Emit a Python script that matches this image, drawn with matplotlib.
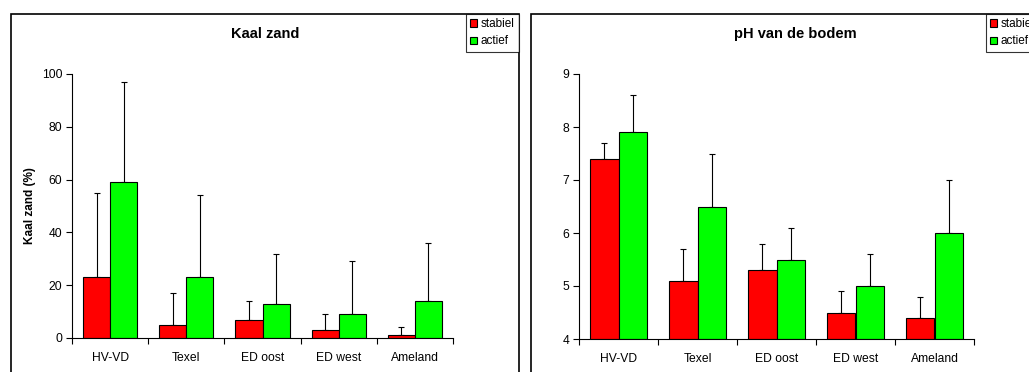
import numpy as np
import matplotlib
matplotlib.use('Agg')
import matplotlib.pyplot as plt
from matplotlib.patches import Rectangle

plt.rcParams['font.family'] = ['Liberation Sans', 'DejaVu Sans']

sites = ['HV-VD', 'Texel', 'ED oost', 'ED west', 'Ameland']

zand_stabiel = [23, 5, 7, 3, 1]
zand_stabiel_top = [55, 17, 14, 9, 4]
zand_actief = [59, 23, 13, 9, 14]
zand_actief_top = [97, 54, 32, 29, 36]

ph_stabiel = [7.4, 5.1, 5.3, 4.5, 4.4]
ph_stabiel_top = [7.7, 5.7, 5.8, 4.9, 4.8]
ph_actief = [7.9, 6.5, 5.5, 5.0, 6.0]
ph_actief_top = [8.6, 7.5, 6.1, 5.6, 7.0]

W, H = 1029, 372
fig = plt.figure(figsize=(W / 100, H / 100), dpi=100)


def px_axes(x0, x1, ytop, ybot):
    return fig.add_axes([x0 / W, (H - ybot) / H, (x1 - x0) / W, (ybot - ytop) / H])


def panel(ax, stab, stab_top, act, act_top, ylim, yticks, title, ylabel, frame, leg_x):
    x = np.arange(len(sites))
    bw = 0.355
    b = ylim[0]
    ax.bar(x - bw / 2, np.array(stab) - b, bw, bottom=b, color='#ff0000', edgecolor='black', linewidth=0.8, zorder=2, label='stabiel')
    ax.bar(x + bw / 2, np.array(act) - b, bw, bottom=b, color='#00ff00', edgecolor='black', linewidth=0.8, zorder=2, label='actief')
    for xs, v, t in [(x - bw / 2, stab, stab_top), (x + bw / 2, act, act_top)]:
        v = np.array(v)
        up = np.array(t) - v
        ax.errorbar(xs, v, yerr=[np.zeros_like(v), up], fmt='none', ecolor='black',
                    elinewidth=0.8, capsize=2.5, capthick=0.8, zorder=1)
    ax.set_xlim(-0.5, len(sites) - 0.5)
    ax.set_ylim(*ylim)
    ax.set_yticks(yticks)
    ax.set_xticks(np.arange(len(sites) + 1) - 0.5)
    ax.set_xticklabels([])
    ax.set_xticks(x, minor=True)
    ax.set_xticklabels(sites, minor=True, fontsize=8.7)
    ax.tick_params(axis='x', which='minor', length=0, pad=10)
    ax.tick_params(axis='x', which='major', length=4, width=0.8, direction='out')
    ax.tick_params(axis='y', length=4, width=0.8, direction='out', labelsize=8.7, pad=3)
    for s in ['top', 'right']:
        ax.spines[s].set_visible(False)
    for s in ['left', 'bottom']:
        ax.spines[s].set_linewidth(0.8)
    if ylabel:
        ax.set_ylabel(ylabel, fontsize=8.5, fontweight='bold')
        ax.yaxis.set_label_coords(-0.094, 0.5)
    fig.text((frame[0] + frame[1]) / 2 / W + 0.0, 1 - 34 / H, title, ha='center', va='center',
             fontsize=10.5, fontweight='bold')
    fig.patches.append(Rectangle((frame[0] / W, -0.05), (frame[1] - frame[0]) / W, 1.05 - 14 / H,
                                 transform=fig.transFigure, fill=False, edgecolor='black', linewidth=1.2))
    handles, labels = ax.get_legend_handles_labels()
    leg = fig.legend(handles, labels, loc='upper left', bbox_to_anchor=(leg_x / W, 1 - 14 / H), fontsize=8.5,
                     frameon=True, fancybox=False, edgecolor='black', handlelength=0.6, handleheight=0.6,
                     handletextpad=0.3, borderpad=0.35, labelspacing=0.45, borderaxespad=0)
    leg.get_frame().set_linewidth(0.8)


ax1 = px_axes(72, 453, 74, 338)
panel(ax1, zand_stabiel, zand_stabiel_top, zand_actief, zand_actief_top, (0, 100), [0, 20, 40, 60, 80, 100],
      'Kaal zand', 'Kaal zand (%)', (11, 519), 466)

ax2 = px_axes(579, 974, 74, 339)
panel(ax2, ph_stabiel, ph_stabiel_top, ph_actief, ph_actief_top, (4, 9), [4, 5, 6, 7, 8, 9],
      'pH van de bodem', None, (531, 1060), 986)

fig.savefig('out.png', dpi=100)
